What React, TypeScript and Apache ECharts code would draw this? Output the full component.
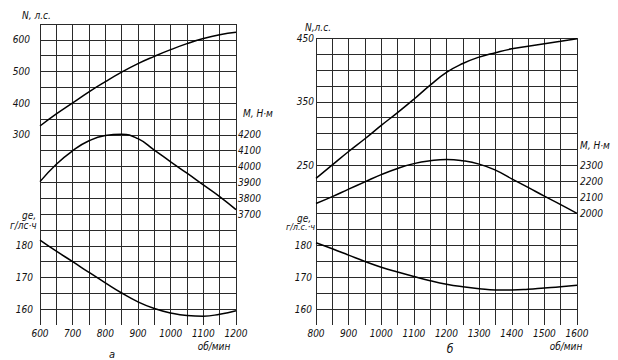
import React, { useEffect, useRef } from "react";
import * as echarts from "echarts";

// Panel "а"
const rpmA = [600, 650, 700, 750, 800, 850, 900, 950, 1000, 1050, 1100, 1150, 1200];
const powerA = [328, 366, 401, 436, 468, 498, 525, 548, 569, 588, 604, 616, 624];
const torqueA = [3905, 4015, 4100, 4163, 4196, 4204, 4176, 4104, 4030, 3958, 3884, 3810, 3728];
const geA = [181.8, 178.3, 175.0, 171.6, 168.3, 165.1, 162.3, 160.2, 158.8, 158.0, 157.8, 158.4, 159.5];

// Panel "б"
const rpmB = [800, 850, 900, 950, 1000, 1050, 1100, 1150, 1200, 1250, 1300, 1350, 1400, 1450, 1500, 1550, 1600];
const powerB = [230, 251, 272, 292, 313, 333, 354, 376, 396, 410, 420, 427, 433, 437, 441, 445, 449];
const torqueB = [2062, 2105, 2152, 2198, 2243, 2282, 2312, 2330, 2338, 2330, 2309, 2271, 2217, 2163, 2108, 2055, 2000];
const geB = [180.8, 178.9, 176.9, 174.9, 173.1, 171.6, 170.2, 168.9, 167.8, 167.0, 166.4, 166.0, 166.0, 166.2, 166.6, 167.0, 167.5];

// Tick labels shown
const nTicksA = [300, 400, 500, 600];
const mTicksA = [3700, 3800, 3900, 4000, 4100, 4200];
const geTicksA = [160, 170, 180];
const nTicksB = [250, 350, 450];
const mTicksB = [2000, 2100, 2200, 2300];
const geTicksB = [160, 170, 180];

const FONT = '"Liberation Sans Narrow", "DejaVu Sans Condensed", Roboto, sans-serif';
const INK = "#111";
const GRIDC = "#2a2a2a";

const pairs = (xs: number[], ys: number[]) => xs.map((x, i) => [x, ys[i]]);

const labelStyle = (margin: number, list: number[]) => ({
  show: true,
  margin,
  color: INK,
  fontStyle: "italic" as const,
  fontFamily: FONT,
  fontSize: 10,
  formatter: (v: number) => (list.includes(Math.round(v)) ? String(Math.round(v)) : ""),
  showMinLabel: true,
  showMaxLabel: true,
});

const xAxis = (grid: number, min: number, max: number) => ({
  type: "value",
  gridIndex: grid,
  min,
  max,
  interval: 50,
  axisLine: { show: false },
  axisTick: { show: false },
  splitLine: { show: true, lineStyle: { color: GRIDC, width: 1 } },
  axisLabel: {
    show: true,
    margin: 3,
    color: INK,
    fontStyle: "italic",
    fontFamily: FONT,
    fontSize: 10,
    formatter: (v: number) => (v % 100 === 0 ? String(v) : ""),
  },
});

const yAxis = (
  grid: number,
  position: "left" | "right",
  min: number,
  max: number,
  interval: number,
  margin: number,
  list: number[],
  split: boolean
) => ({
  type: "value",
  gridIndex: grid,
  position,
  min,
  max,
  interval,
  axisLine: { show: false },
  axisTick: { show: false },
  splitLine: {
    show: split,
    showMinLine: false,
    lineStyle: { color: GRIDC, width: 1 },
  },
  axisLabel: labelStyle(margin, list),
});

const line = (xi: number, yi: number, data: number[][]) => ({
  type: "line",
  xAxisIndex: xi,
  yAxisIndex: yi,
  data,
  showSymbol: false,
  smooth: 0.5,
  lineStyle: { color: "#000", width: 1.5 },
  silent: true,
});

const txt = (
  text: string,
  x: number,
  y: number,
  align: "left" | "center" | "right" = "left",
  size = 10
) => ({
  type: "text",
  x,
  y,
  silent: true,
  style: {
    text,
    fill: INK,
    fontStyle: "italic",
    fontFamily: FONT,
    fontSize: size,
    textAlign: align,
    textVerticalAlign: "middle",
  },
});

export default function App() {
  const ref = useRef<HTMLDivElement>(null);
  useEffect(() => {
    if (!ref.current) return;
    const chart = echarts.init(ref.current, undefined, { renderer: "svg" });
    chart.setOption({
      animation: false,
      backgroundColor: "#fff",
      grid: [
        { left: 40, top: 24, width: 196, height: 301, outerBoundsMode: "none", containLabel: false },
        { left: 316, top: 38, width: 261, height: 287, outerBoundsMode: "none", containLabel: false },
      ],
      xAxis: [xAxis(0, 600, 1200), xAxis(1, 800, 1600)],
      yAxis: [
        yAxis(0, "left", -300, 650, 50, 10, nTicksA, true),
        yAxis(0, "right", 3000, 4900, 100, 2, mTicksA, false),
        yAxis(0, "left", 155, 250, 5, 7, geTicksA, false),
        yAxis(1, "left", 0, 450, 25, 2, nTicksB, true),
        yAxis(1, "right", 1300, 3100, 100, 3, mTicksB, false),
        yAxis(1, "left", 155, 245, 5, 4, geTicksB, false),
      ],
      series: [
        line(0, 0, pairs(rpmA, powerA)),
        line(0, 1, pairs(rpmA, torqueA)),
        line(0, 2, pairs(rpmA, geA)),
        line(1, 3, pairs(rpmB, powerB)),
        line(1, 4, pairs(rpmB, torqueB)),
        line(1, 5, pairs(rpmB, geB)),
      ],
      graphic: [
        txt("N, л.с.", 22, 15),
        txt("M, Н·м", 243, 113),
        txt("ge,", 22, 215),
        txt("г/лс·ч", 10, 225),
        txt("об/мин", 214, 346, "center"),
        txt("а", 112, 354, "center", 11),
        txt("N,л.с.", 305, 27),
        txt("M, Н·м", 580, 145),
        txt("ge,", 297, 218),
        txt("г/л.с.·ч", 315, 227, "right", 9),
        txt("об/мин", 566, 346, "center"),
        txt("б", 450, 349, "center", 12),
      ],
    });
    return () => chart.dispose();
  }, []);
  return (
    <div
      ref={ref}
      style={{ position: "fixed", left: 0, top: 0, width: 618, height: 360, background: "#fff" }}
    />
  );
}
